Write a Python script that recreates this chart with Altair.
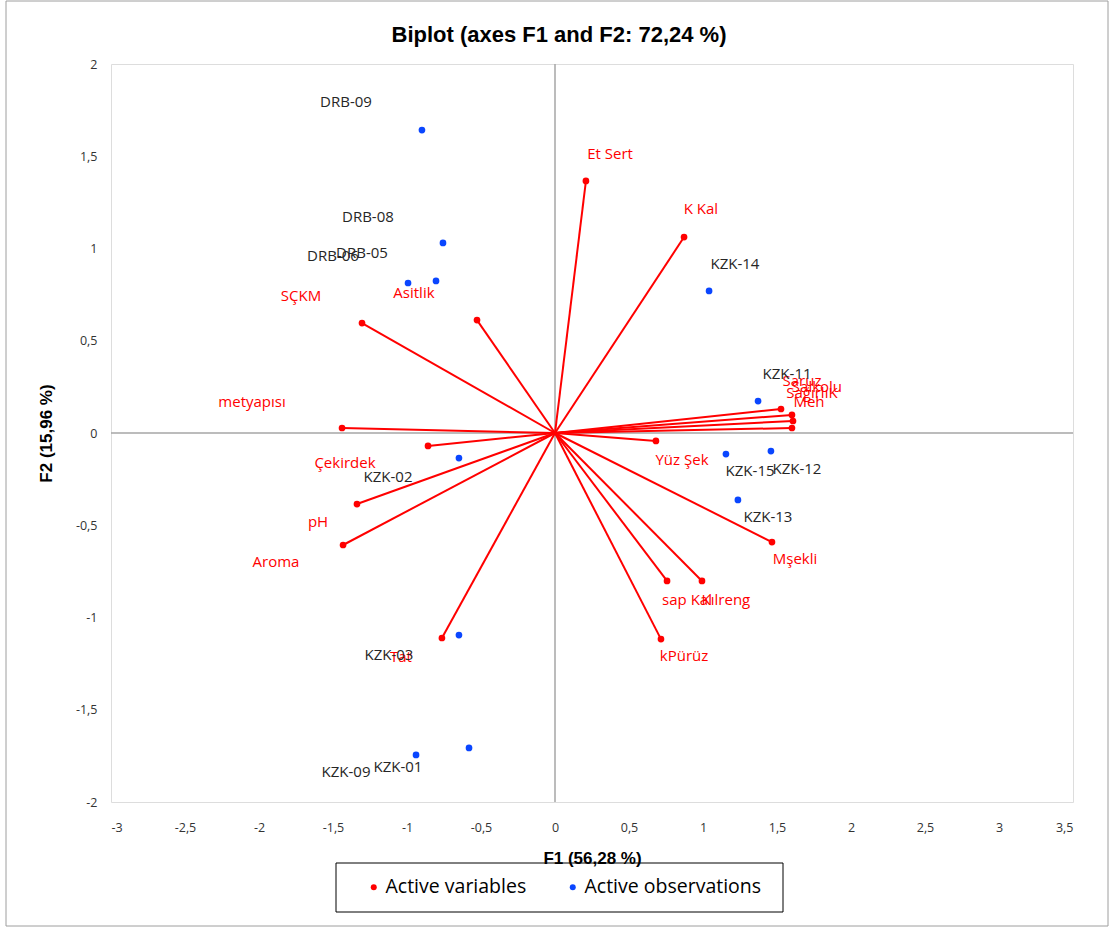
import altair as alt
import pandas as pd

# Active variables: loadings on F1/F2 and label anchor positions
var_names = ["Et Sert", "K Kal", "SÇKM", "Asitlik", "metyapısı", "Çekirdek", "pH", "Aroma",
             "Tat", "Yüz Şek", "Mşekli", "sap Kal", "Kılreng", "kPürüz",
             "Saruz", "Salkolu", "SağırlıK", "Meh"]
var_x = [0.209, 0.872, -1.304, -0.527, -1.439, -0.858, -1.338, -1.432,
         -0.764, 0.682, 1.466, 0.757, 0.993, 0.716,
         1.527, 1.601, 1.608, 1.601]
var_y = [1.366, 1.062, 0.596, 0.612, 0.027, -0.070, -0.385, -0.607,
         -1.111, -0.043, -0.591, -0.802, -0.802, -1.117,
         0.130, 0.098, 0.065, 0.027]
var_lx = [0.372, 0.986, -1.716, -0.953, -2.047, -1.419, -1.601, -1.885,
          -1.041, 0.858, 1.622, 0.892, 1.155, 0.872,
          1.669, 1.770, 1.736, 1.716]
var_ly = [1.512, 1.214, 0.743, 0.759, 0.168, -0.163, -0.482, -0.699,
          -1.214, -0.146, -0.683, -0.905, -0.905, -1.209,
          0.282, 0.249, 0.217, 0.168]

# Active observations: scores on F1/F2 and label anchor positions
obs_names = ["DRB-09", "DRB-08", "DRB-05", "DRB-06", "KZK-14", "KZK-11", "KZK-15",
             "KZK-12", "KZK-13", "KZK-02", "KZK-03", "KZK-01", "KZK-09"]
obs_x = [-0.899, -0.757, -0.804, -0.993, 1.041, 1.372, 1.155,
         1.459, 1.236, -0.649, -0.649, -0.581, -0.939]
obs_y = [1.642, 1.030, 0.824, 0.813, 0.770, 0.173, -0.114,
         -0.098, -0.363, -0.136, -1.095, -1.707, -1.745]
obs_lx = [-1.412, -1.264, -1.304, -1.500, 1.216, 1.568, 1.318,
          1.635, 1.439, -1.128, -1.122, -1.061, -1.412]
obs_ly = [1.794, 1.171, 0.976, 0.959, 0.916, 0.320, -0.206,
          -0.195, -0.455, -0.238, -1.203, -1.810, -1.837]

x_ticks = [-3, -2.5, -2, -1.5, -1, -0.5, 0, 0.5, 1, 1.5, 2, 2.5, 3, 3.5]
y_ticks = [-2, -1.5, -1, -0.5, 0, 0.5, 1, 1.5, 2]

chart_title = "Biplot (axes F1 and F2: 72,24 %)"

RED = "#ff0000"
BLUE = "#0a46ff"
FONT = "Open Sans"

variables = pd.DataFrame({"name": var_names, "x": var_x, "y": var_y,
                          "lx": var_lx, "ly": var_ly})
variables["x0"] = 0.0
variables["y0"] = 0.0
variables["kind"] = "Active variables"

observations = pd.DataFrame({"name": obs_names, "x": obs_x, "y": obs_y,
                             "lx": obs_lx, "ly": obs_ly})
observations["kind"] = "Active observations"

points = pd.concat([variables[["x", "y", "kind"]], observations[["x", "y", "kind"]]],
                   ignore_index=True)

comma = "replace(toString(datum.value), '.', ',')"
xscale = alt.Scale(domain=[-3, 3.5], nice=False, zero=False)
yscale = alt.Scale(domain=[-2, 2], nice=False, zero=False)

x_axis = alt.Axis(values=x_ticks, labelExpr=comma, grid=False, domain=False, ticks=False,
                  labelPadding=19, labelFont=FONT, labelFontSize=12.5, labelColor="#333333",
                  title="F1 (56,28 %)", titleFont="Liberation Sans", titleFontSize=17,
                  titleFontWeight="bold", titleColor="#000000", titlePadding=17)
y_axis = alt.Axis(values=y_ticks, labelExpr=comma, grid=False, domain=False, ticks=False,
                  labelPadding=14, labelFont=FONT, labelFontSize=12.5, labelColor="#333333",
                  title="F2 (15,96 %)", titleFont="Liberation Sans", titleFontSize=17,
                  titleFontWeight="bold", titleColor="#000000", titlePadding=20)

one = pd.DataFrame({"v": [0]})

# zero lines through the origin
zero_v = alt.Chart(one).mark_rule(color="#a6a6a6", strokeWidth=1.5).encode(
    x=alt.X("v:Q", scale=xscale, axis=x_axis))
zero_h = alt.Chart(one).mark_rule(color="#a6a6a6", strokeWidth=1.5).encode(
    y=alt.Y("v:Q", scale=yscale, axis=y_axis))

vectors = alt.Chart(variables).mark_rule(color=RED, strokeWidth=2).encode(
    x=alt.X("x0:Q", scale=xscale), y=alt.Y("y0:Q", scale=yscale),
    x2="x:Q", y2="y:Q")

dots = alt.Chart(points).mark_circle(opacity=1, size=45).encode(
    x=alt.X("x:Q", scale=xscale), y=alt.Y("y:Q", scale=yscale),
    color=alt.Color("kind:N",
                    scale=alt.Scale(domain=["Active variables", "Active observations"],
                                    range=[RED, BLUE]),
                    legend=alt.Legend(title=None, orient="none", legendX=253, legendY=813,
                                      direction="horizontal", symbolType="circle",
                                      symbolSize=36, symbolStrokeWidth=0, labelFont=FONT,
                                      labelFontSize=19.5, labelColor="#000000",
                                      columnPadding=36, symbolOffset=0, labelOffset=2,
                                      labelLimit=400, padding=0)))

var_text = alt.Chart(variables).mark_text(color=RED, font=FONT, fontSize=15).encode(
    x=alt.X("lx:Q", scale=xscale), y=alt.Y("ly:Q", scale=yscale), text="name:N")
obs_text = alt.Chart(observations).mark_text(color="#262626", font=FONT, fontSize=15).encode(
    x=alt.X("lx:Q", scale=xscale), y=alt.Y("ly:Q", scale=yscale), text="name:N")

# chart heading, legend frame and outer chart frame
heading = alt.Chart(pd.DataFrame({"t": [chart_title]})).mark_text(
    font="Liberation Sans", fontSize=22, fontWeight="bold", color="#000000",
    align="center", baseline="middle").encode(
    x=alt.value(448), y=alt.value(-29), text="t:N")
legend_box = alt.Chart(one).mark_rect(fillOpacity=0, stroke="#000000", strokeWidth=1).encode(
    x=alt.value(225), x2=alt.value(672), y=alt.value(799), y2=alt.value(848))
outer_box = alt.Chart(one).mark_rect(fillOpacity=0, stroke="#9e9e9e", strokeWidth=1).encode(
    x=alt.value(-105), x2=alt.value(997), y=alt.value(-63), y2=alt.value(862))

chart = alt.layer(zero_v, zero_h, vectors, dots, var_text, obs_text,
                  heading, legend_box, outer_box).properties(
    width=962, height=738,
    autosize=alt.AutoSizeParams(type="none"),
    padding={"left": 111, "top": 64, "right": 42, "bottom": 131},
).configure_view(stroke="#c8c8c8", strokeWidth=1).configure(background="#ffffff")

chart.save("out.html", embed_options={"renderer": "svg", "actions": False})
